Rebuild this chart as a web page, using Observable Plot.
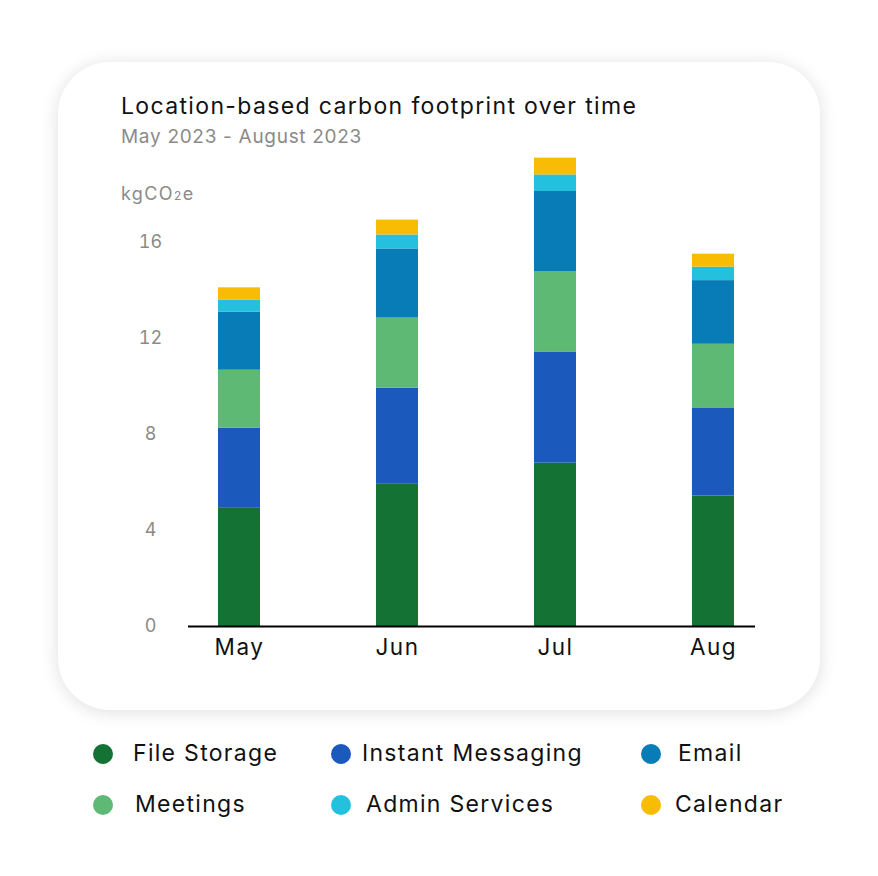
<!DOCTYPE html>
<html>
<head>
<meta charset="utf-8">
<script src="https://cdn.jsdelivr.net/npm/d3@7"></script>
<script src="https://cdn.jsdelivr.net/npm/@observablehq/plot@0.6"></script>
<style>
  html, body { margin: 0; padding: 0; background: #fff; }
  body { width: 878px; height: 876px; position: relative; overflow: hidden; font-family: Inter, "Open Sans", sans-serif; }
  #card { position: absolute; left: 58px; top: 62px; width: 762px; height: 648px; border-radius: 52px; background: #fff;
          box-shadow: 0 2px 18px rgba(0,0,0,0.13); }
  #chart { position: absolute; left: 0; top: 0; }
  .t { position: absolute; white-space: nowrap; line-height: 1; }
  #title { left: 121px; top: 95px; font-size: 23px; letter-spacing: 1.35px; color: #111; }
  #subtitle { left: 121px; top: 127px; font-size: 19px; letter-spacing: 0.7px; color: #8a8a8a; }
  #unit { left: 121px; top: 185px; font-size: 18px; letter-spacing: 1.4px; color: #8a8a8a; }
  #unit span { font-size: 12px; }
  .leg { position: absolute; font-size: 23px; letter-spacing: 1.3px; color: #111; white-space: nowrap; line-height: 1; }
  .dot { position: absolute; width: 20px; height: 20px; border-radius: 50%; }
</style>
</head>
<body>
<div id="card"></div>
<div id="chart"></div>
<div class="t" id="title">Location-based carbon footprint over time</div>
<div class="t" id="subtitle">May 2023 - August 2023</div>
<div class="t" id="unit">kgCO<span>2</span>e</div>
<div id="legend"></div>
<script>
const months = ["May", "Jun", "Jul", "Aug"];
const seriesNames = ["File Storage", "Instant Messaging", "Meetings", "Email", "Admin Services", "Calendar"];
const seriesColors = ["#147334", "#1b59bc", "#5eb974", "#077cb6", "#24c1df", "#f9bc05"];
const fileStorage      = [4.92, 5.92, 6.80, 5.43];
const instantMessaging = [3.33, 4.00, 4.63, 3.67];
const meetings         = [2.42, 2.92, 3.35, 2.65];
const email            = [2.42, 2.88, 3.33, 2.65];
const adminServices    = [0.50, 0.58, 0.69, 0.56];
const calendar         = [0.51, 0.62, 0.70, 0.54];
const yTicks = [0, 4, 8, 12, 16];
const legendOrder = ["File Storage", "Instant Messaging", "Email", "Meetings", "Admin Services", "Calendar"];

const seriesValues = [fileStorage, instantMessaging, meetings, email, adminServices, calendar];
const data = [];
seriesNames.forEach((s, i) => months.forEach((m, j) => data.push({month: m, series: s, value: seriesValues[i][j]})));

const chart = Plot.plot({
  width: 878,
  height: 690,
  marginLeft: 188,
  marginRight: 123,
  marginTop: 145.6,
  marginBottom: 64,
  style: {fontFamily: "Inter, 'Open Sans', sans-serif", background: "transparent", overflow: "visible"},
  x: {domain: months, paddingInner: 0.734, paddingOuter: 0.1614, align: 0.588, round: false, label: null},
  y: {domain: [0, 20], label: null},
  color: {domain: seriesNames, range: seriesColors},
  marks: [
    Plot.barY(data, {x: "month", y: "value", fill: "series", order: seriesNames}),
    Plot.axisY({ticks: yTicks, tickSize: 0, tickPadding: 38, textAnchor: "middle", fontSize: 18, fill: "#8a8a8a", label: null}),
    Plot.axisX({tickSize: 0, tickPadding: 13, fontSize: 22.5, fill: "#111", label: null}),
    Plot.ruleY([0], {stroke: "#000", strokeWidth: 2})
  ]
});
chart.querySelectorAll("[aria-label='x-axis tick label'] text").forEach(t => t.setAttribute("letter-spacing", "1.5"));
document.getElementById("chart").appendChild(chart);

const legend = document.getElementById("legend");
const colX = [[103, 133], [341, 362], [651, 678]];
const colX2 = [[103, 135], [341, 366], [651, 675]];
legendOrder.forEach((name, k) => {
  const row = Math.floor(k / 3), col = k % 3;
  const pos = row === 0 ? colX[col] : colX2[col];
  const cy = row === 0 ? 754 : 805;
  const dot = document.createElement("div");
  dot.className = "dot";
  dot.style.left = (pos[0] - 10) + "px";
  dot.style.top = (cy - 10) + "px";
  dot.style.background = seriesColors[seriesNames.indexOf(name)];
  legend.appendChild(dot);
  const lab = document.createElement("div");
  lab.className = "leg";
  lab.textContent = name;
  lab.style.left = pos[1] + "px";
  lab.style.top = (cy - 12) + "px";
  legend.appendChild(lab);
});
</script>
</body>
</html>
